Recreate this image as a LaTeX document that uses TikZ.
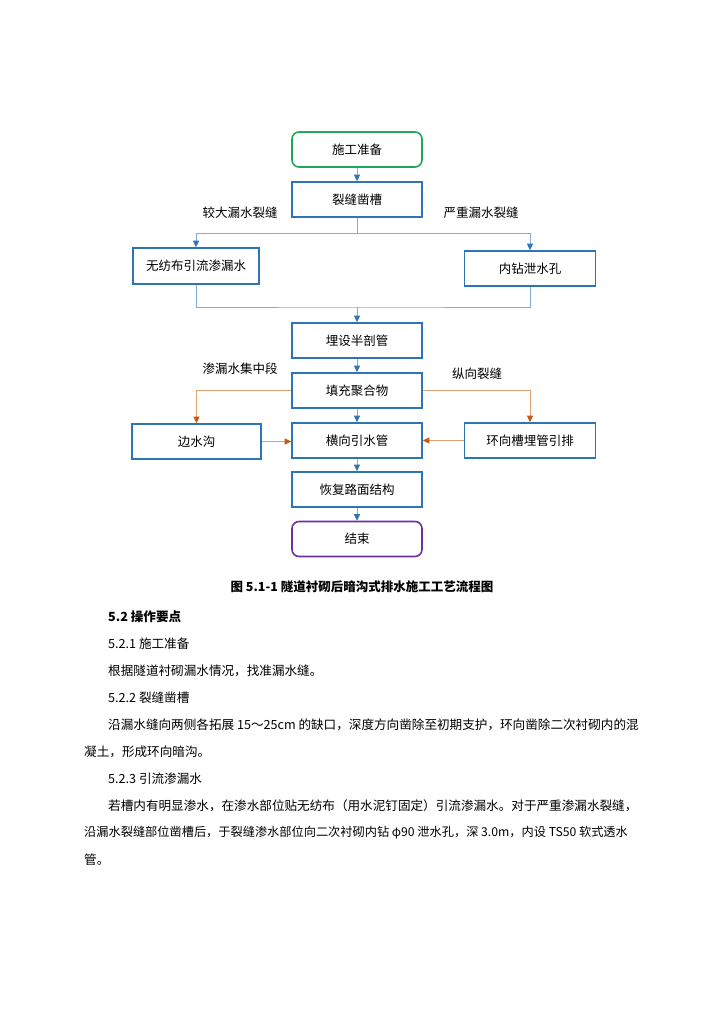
\documentclass[tikz,border=0pt]{standalone}
\usepackage{fontspec}
\setmainfont{Noto Sans CJK SC}
\usetikzlibrary{arrows.meta,positioning}
\definecolor{boxblue}{HTML}{2E75B6}
\definecolor{lineblue}{HTML}{7FAEDB}
\definecolor{startgreen}{HTML}{1FA75A}
\definecolor{endpurple}{HTML}{7030A0}
\definecolor{lineorange}{HTML}{E0A070}
\definecolor{tiporange}{HTML}{C55A11}
\XeTeXlinebreaklocale "zh"
\XeTeXlinebreakskip=0pt plus 2pt minus 0.8pt

\begin{document}
\begin{tikzpicture}[x=1pt,y=-1pt,
  box/.style={draw=boxblue,line width=1.6pt,minimum width=130pt,minimum height=35pt,
    inner sep=0pt,font=\fontsize{12.5}{14}\selectfont},
  termbox/.style={box,rounded corners=7pt},
  lbl/.style={font=\fontsize{12.5}{14}\selectfont},
  link/.style={line width=0.8pt,lineblue},
  arr/.style={-{Triangle[length=6.5pt,width=6pt,color=boxblue]},line width=0.8pt,lineblue},
  oarr/.style={-{Triangle[length=6.5pt,width=6pt,color=tiporange]},line width=0.8pt,lineorange},
  body/.style={anchor=west,inner sep=0pt,font=\fontsize{12.6}{15}\selectfont},
  fullline/.style={body,align=justify}]

\useasboundingbox (0,0) rectangle (724,1024);
\fill[white] (0,0) rectangle (724,1024);

% flow chart
\node[termbox,draw=startgreen] (prep) at (357,149.5) {施工准备};
\node[box] (groove) at (357,199.5) {裂缝凿槽};
\node[box,minimum width=126pt,minimum height=36pt] (cloth) at (196,266) {无纺布引流渗漏水};
\node[box,minimum width=131pt] (hole) at (530,268.5) {内钻泄水孔};
\node[box] (pipe) at (357,340.5) {埋设半剖管};
\node[box] (fill) at (357,390.5) {填充聚合物};
\node[box,minimum width=129pt] (ditch) at (196.5,441.5) {边水沟};
\node[box] (cross) at (357,440.5) {横向引水管};
\node[box,minimum width=131pt] (ring) at (530,440.5) {环向槽埋管引排};
\node[box] (restore) at (357,489.5) {恢复路面结构};
\node[termbox,draw=endpurple] (finish) at (357,539) {结束};

\node[lbl] (lbig) at (240,213) {较大漏水裂缝};
\node[lbl] (lsev) at (481,213) {严重漏水裂缝};
\node[lbl] (lconc) at (240,369) {渗漏水集中段};
\node[lbl] (llong) at (477,374) {纵向裂缝};

\coordinate (split) at (357,233);
\coordinate (merge) at (357,307);

\draw[arr] (prep) -- (groove);
\draw[link] (groove) -- (split);
\draw[arr] (split) -| (cloth.north);
\draw[arr] (split) -| (hole.north);
\draw[link] (cloth.south) |- (merge) -| (hole.south);
\draw[arr] (merge) -- (pipe);
\draw[arr] (pipe) -- (fill);
\draw[arr] (fill) -- (cross);
\draw[arr] (cross) -- (restore);
\draw[arr] (restore) -- (finish);

\draw[oarr] (fill.west) -| (ditch.north);
\draw[oarr] (fill.east) -| (ring.north);
\draw[oarr] (ditch.east) -- (ditch.east -| cross.west);
\draw[oarr] (ring.west) -- (cross.east);

% caption and text
\node[font=\fontsize{12.5}{14}\selectfont\bfseries] (cap) at (362,587)
  {图 5.1-1 隧道衬砌后暗沟式排水施工工艺流程图};
\node[body,font=\fontsize{12.6}{15}\selectfont\bfseries] (h52) at (108,617) {5.2 操作要点};
\node[body] (h521) at (108,644) {5.2.1 施工准备};
\node[body] (t1) at (108,671) {根据隧道衬砌漏水情况，找准漏水缝。};
\node[body] (h522) at (108,698) {5.2.2 裂缝凿槽};
\node[fullline,text width=532pt] (t2) at (108,725)
  {\parfillskip=0pt 沿漏水缝向两侧各拓展 15～25cm 的缺口，深度方向凿除至初期支护，环向凿除二次衬砌内的混};
\node[body] (t3) at (84,752) {凝土，形成环向暗沟。};
\node[body] (h523) at (108,779) {5.2.3 引流渗漏水};
\node[fullline,text width=532pt] (t4) at (108,806)
  {\parfillskip=0pt 若槽内有明显渗水，在渗水部位贴无纺布（用水泥钉固定）引流渗漏水。对于严重渗漏水裂缝，};
\node[fullline,text width=556pt,font=\fontsize{12.2}{15}\selectfont] (t5) at (84,833)
  {\parfillskip=0pt 沿漏水裂缝部位凿槽后，于裂缝渗水部位向二次衬砌内钻 φ90 泄水孔，深 3.0m，内设 TS50 软式透水};
\node[body] (t6) at (84,860) {管。};
\end{tikzpicture}
\end{document}
